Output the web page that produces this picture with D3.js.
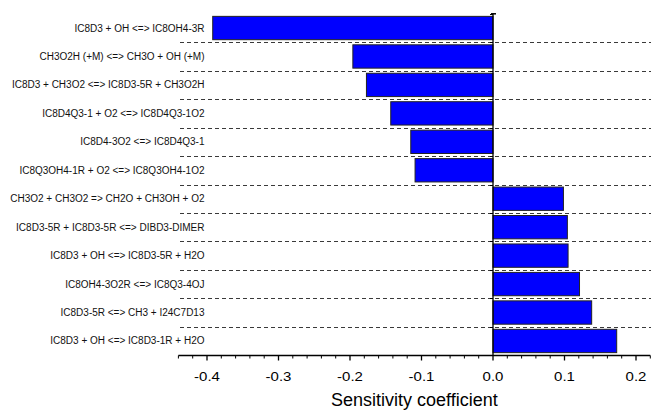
<!DOCTYPE html>
<html><head><meta charset="utf-8">
<script src="https://cdn.jsdelivr.net/npm/d3@7"></script>
<style>body{margin:0;background:#fff}svg{display:block}</style>
</head><body>
<script>
const reactions = [
  "IC8D3 + OH <=> IC8OH4-3R",
  "CH3O2H (+M) <=> CH3O + OH (+M)",
  "IC8D3 + CH3O2 <=> IC8D3-5R + CH3O2H",
  "IC8D4Q3-1 + O2 <=> IC8D4Q3-1O2",
  "IC8D4-3O2 <=> IC8D4Q3-1",
  "IC8Q3OH4-1R + O2 <=> IC8Q3OH4-1O2",
  "CH3O2 + CH3O2 => CH2O + CH3OH + O2",
  "IC8D3-5R + IC8D3-5R <=> DIBD3-DIMER",
  "IC8D3 + OH <=> IC8D3-5R + H2O",
  "IC8OH4-3O2R <=> IC8Q3-4OJ",
  "IC8D3-5R <=> CH3 + I24C7D13",
  "IC8D3 + OH <=> IC8D3-1R + H2O"
];
const sensitivity = [-0.392, -0.196, -0.177, -0.143, -0.115, -0.109, 0.0985, 0.104, 0.105, 0.121, 0.138, 0.173];
const xTicks = [-0.4, -0.3, -0.2, -0.1, 0.0, 0.1, 0.2];
const xTitle = "Sensitivity coefficient";

const W = 651, H = 410;
const svg = d3.select("body").append("svg").attr("width", W).attr("height", H);

const x = d3.scaleLinear().domain([-0.44, 0.22]).range([178.4, 650.3]);
const y = d3.scaleBand().domain(reactions).range([13.8, 355.2]).paddingInner(0.18).paddingOuter(0.09);
const step = y.step();
const gapHalf = step * 0.18 / 2;
const axisY = 355.5;

// dashed separators
const bounds = reactions.slice(1).map(r => y(r) - gapHalf);
svg.append("g").selectAll("line").data(bounds).join("line")
  .attr("x1", 180).attr("x2", W)
  .attr("y1", d => Math.round(d) + 0.5).attr("y2", d => Math.round(d) + 0.5)
  .attr("stroke", "#3a3a3a").attr("stroke-width", 1).attr("stroke-dasharray", "4,3");

// bars
svg.append("g").selectAll("rect").data(reactions).join("rect")
  .attr("x", (d, i) => x(Math.min(0, sensitivity[i])))
  .attr("width", (d, i) => Math.abs(x(sensitivity[i]) - x(0)))
  .attr("y", d => y(d))
  .attr("height", y.bandwidth())
  .attr("fill", "#0000ff").attr("stroke", "#222").attr("stroke-width", 1);

// zero axis line with ticks at band boundaries
const allBounds = [y(reactions[0]) - gapHalf].concat(bounds);
svg.append("line").attr("x1", x(0)).attr("x2", x(0)).attr("y1", allBounds[0]).attr("y2", axisY)
  .attr("stroke", "#000").attr("stroke-width", 1.3);
svg.append("g").selectAll("line").data(allBounds).join("line")
  .attr("x1", x(0) - 3).attr("x2", x(0))
  .attr("y1", d => Math.round(d) + 0.5).attr("y2", d => Math.round(d) + 0.5)
  .attr("stroke", "#000").attr("stroke-width", 1);
svg.append("line").attr("x1", x(0) - 2).attr("x2", x(0) + 3)
  .attr("y1", allBounds[0]).attr("y2", allBounds[0]).attr("stroke", "#000").attr("stroke-width", 1.5);

// category labels
svg.append("g").selectAll("text").data(reactions).join("text")
  .attr("x", 204.5).attr("y", d => y(d) + y.bandwidth() / 2)
  .attr("text-anchor", "end").attr("dominant-baseline", "central")
  .attr("font-family", "Liberation Sans, Arial, sans-serif").attr("font-size", 10)
  .attr("fill", "#111").text(d => d);

// x axis
const minor = d3.range(-0.44, 0.2201, 0.02).map(v => +v.toFixed(2)).filter(v => !xTicks.some(t => Math.abs(t - v) < 1e-9));
const gx = svg.append("g").attr("transform", `translate(0,${axisY})`);
gx.append("line").attr("x1", x.range()[0]).attr("x2", x.range()[1]).attr("stroke", "#000").attr("stroke-width", 1.3);
gx.selectAll("line.minor").data(minor).join("line").attr("class", "minor")
  .attr("x1", d => x(d)).attr("x2", d => x(d)).attr("y1", 0).attr("y2", 3)
  .attr("stroke", "#000").attr("stroke-width", 1);
gx.selectAll("line.major").data(xTicks).join("line").attr("class", "major")
  .attr("x1", d => x(d)).attr("x2", d => x(d)).attr("y1", 0).attr("y2", 5)
  .attr("stroke", "#000").attr("stroke-width", 1.3);
gx.selectAll("text").data(xTicks).join("text")
  .attr("transform", d => `translate(${x(d)},25.2) scale(1.2,1)`)
  .attr("text-anchor", "middle")
  .attr("font-family", "Liberation Sans, Arial, sans-serif").attr("font-size", 12.5)
  .attr("fill", "#000").text(d => d3.format(".1f")(d).replace("−", "-"));

svg.append("text").attr("x", (x.range()[0] + x.range()[1]) / 2).attr("y", 406)
  .attr("text-anchor", "middle")
  .attr("font-family", "Liberation Sans, Arial, sans-serif").attr("font-size", 18)
  .attr("fill", "#000").text(xTitle);
</script>
</body></html>
